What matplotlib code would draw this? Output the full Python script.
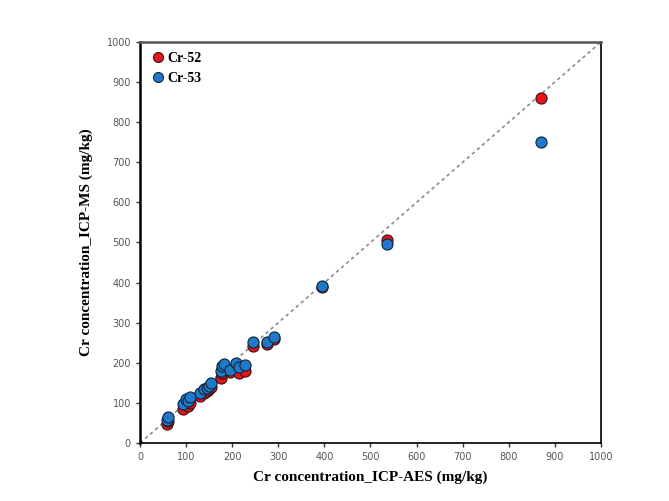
import numpy as np
import matplotlib.pyplot as plt

# Cr concentration measured by ICP-AES (x) and ICP-MS isotopes (y), mg/kg
icp_aes = [58, 60, 93, 100, 105, 108, 130, 138, 145, 150, 155, 175, 178, 183,
           195, 208, 215, 228, 245, 275, 290, 395, 535, 870]
cr52 = [48, 55, 85, 95, 92, 100, 118, 125, 130, 135, 140, 162, 175, 185,
        178, 192, 175, 180, 243, 248, 260, 388, 507, 860]
cr53 = [58, 65, 98, 110, 105, 115, 125, 135, 138, 143, 150, 180, 192, 197,
        183, 200, 190, 195, 252, 252, 265, 392, 495, 750]
ticks = np.arange(0, 1001, 100)

fig = plt.figure(figsize=(6.69, 5.01), dpi=100)
ax = fig.add_axes([0.2093, 0.1158, 0.689, 0.8004])

# ligne 1:1
ax.plot([0, 1000], [0, 1000], color='#8a8a8a', linestyle=(0, (2, 2)), linewidth=1.2, zorder=1)

ax.plot(icp_aes, cr52, 'o', color='#e8141b', markeredgecolor='#3a1010',
        markeredgewidth=0.8, markersize=8, label='Cr-52', zorder=2)
ax.plot(icp_aes, cr53, 'o', color='#1f78c8', markeredgecolor='#10243a',
        markeredgewidth=0.8, markersize=8, label='Cr-53', zorder=3)

ax.set_xlim(0, 1000)
ax.set_ylim(0, 1000)
ax.set_xticks(ticks)
ax.set_yticks(ticks)
ax.tick_params(direction='out', length=3, width=1, labelsize=7, labelcolor='#555555', colors='#333333')
for lab in ax.get_xticklabels() + ax.get_yticklabels():
    lab.set_color('#555555')

ax.spines['left'].set_linewidth(1.8)
ax.spines['bottom'].set_linewidth(1.2)
ax.spines['top'].set_linewidth(1.8)
ax.spines['top'].set_color('#555555')
ax.spines['right'].set_linewidth(1.2)

ax.set_xlabel('Cr concentration_ICP-AES (mg/kg)', fontfamily='Liberation Serif',
              fontweight='bold', fontsize=11, labelpad=6)
ax.set_ylabel('Cr concentration_ICP-MS (mg/kg)', fontfamily='Liberation Serif',
              fontweight='bold', fontsize=11, labelpad=10)

leg = ax.legend(loc='upper left', frameon=False, handletextpad=0.1, borderaxespad=0.3,
                prop={'family': 'Liberation Serif', 'weight': 'bold', 'size': 10},
                markerscale=0.9, handlelength=1.2, labelspacing=0.5)

fig.savefig('out.png', dpi=100)
